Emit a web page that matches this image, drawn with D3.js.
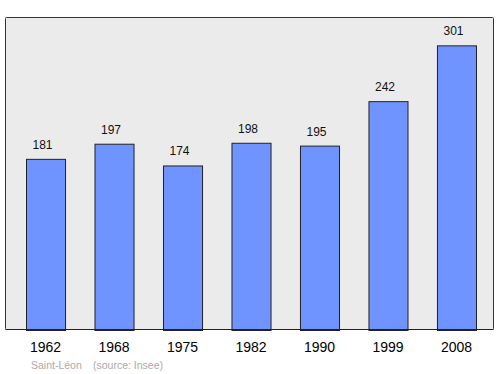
<!DOCTYPE html>
<html>
<head>
<meta charset="utf-8">
<script src="https://cdn.jsdelivr.net/npm/d3@7"></script>
<style>
  body { margin: 0; background: #fff; }
  svg { display: block; font-family: "Liberation Sans", Arial, sans-serif; }
</style>
</head>
<body>
<div id="chart"></div>
<script>
const years = ["1962", "1968", "1975", "1982", "1990", "1999", "2008"];
const population = [181, 197, 174, 198, 195, 242, 301];
const town = "Saint-Léon";
const source = "(source: Insee)";

const WIDTH = 500;
const HEIGHT = 374;
const BAR_COLOR = "#7094ff";
const PANEL_COLOR = "#ebebeb";

var svg = d3.select("#chart")
    .append("svg")
    .attr("width", WIDTH)
    .attr("height", HEIGHT);

// background panel
svg.append("rect")
    .attr("x", 5.5)
    .attr("y", 17.5)
    .attr("width", 488)
    .attr("height", 312)
    .attr("rx", 1)
    .attr("fill", PANEL_COLOR)
    .attr("stroke", "#333")
    .attr("stroke-width", 1);

var xScale = d3.scaleBand().domain(years).range([26, 476]).paddingInner(0.43).paddingOuter(0);
var yScale = d3.scaleLinear().domain([0, 331]).range([330, 17]);

var bars = svg.append("g");
bars.selectAll("rect")
    .data(population)
    .enter().append("rect")
    .attr("x", (d, i) => xScale(years[i]) + 0.5)
    .attr("y", d => yScale(d) + 0.5)
    .attr("width", xScale.bandwidth())
    .attr("height", d => yScale(0) - yScale(d))
    .attr("fill", BAR_COLOR)
    .attr("stroke", "#222")
    .attr("stroke-width", 1);

// value labels (sit a bit left of the bar centre, like the original)
bars.selectAll("text")
    .data(population)
    .enter().append("text")
    .attr("x", (d, i) => xScale(years[i]) + xScale.bandwidth() / 2 - 3)
    .attr("y", d => yScale(d) - 10)
    .attr("text-anchor", "middle")
    .attr("font-size", 12)
    .attr("fill", "#111")
    .text(d => d);

// bottom axis line redrawn over bars
svg.append("line")
    .attr("x1", 5.5).attr("x2", 493.5)
    .attr("y1", 329.5).attr("y2", 329.5)
    .attr("stroke", "#222");

// year labels
svg.append("g").selectAll("text")
    .data(years)
    .enter().append("text")
    .attr("x", d => xScale(d) + xScale.bandwidth() / 2)
    .attr("y", 352)
    .attr("text-anchor", "middle")
    .attr("font-size", 14)
    .attr("fill", "#000")
    .text(d => d);

svg.append("text")
    .attr("x", 31).attr("y", 369)
    .attr("font-size", 10.5)
    .attr("fill", "#aaa")
    .text(town);

svg.append("text")
    .attr("x", 93).attr("y", 369)
    .attr("font-size", 10.5)
    .attr("fill", "#aaa")
    .text(source);
</script>
</body>
</html>
